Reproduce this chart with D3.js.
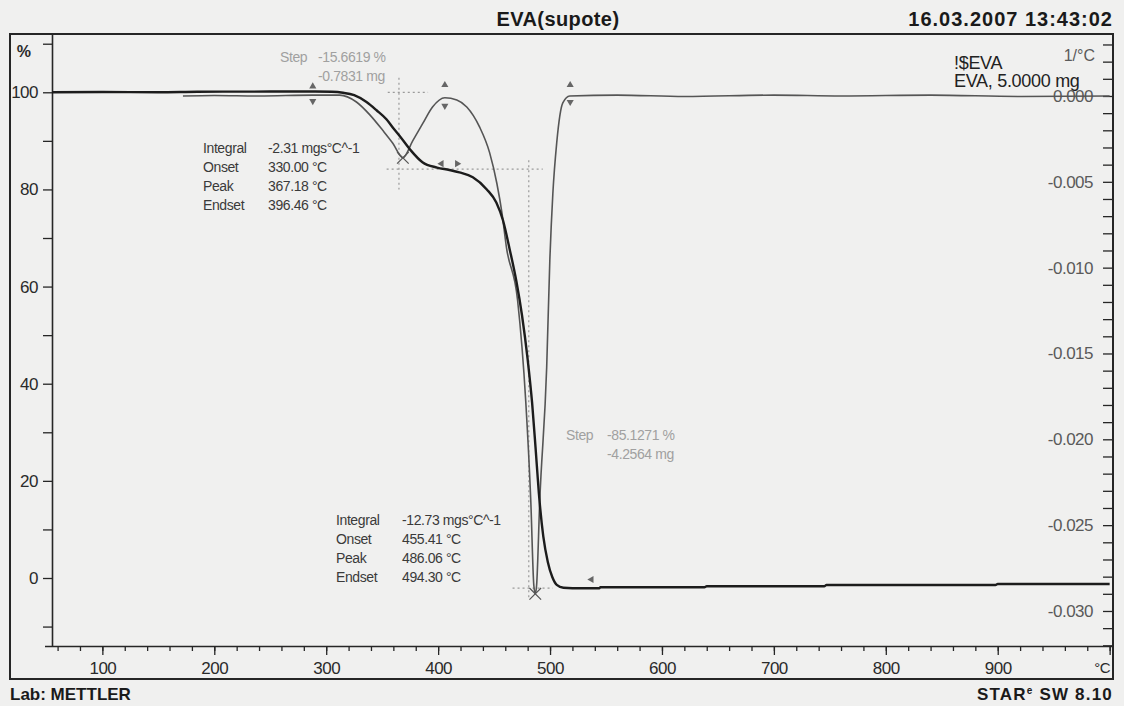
<!DOCTYPE html>
<html><head><meta charset="utf-8">
<script src="https://cdn.jsdelivr.net/npm/d3@7"></script>
<style>
html,body{margin:0;padding:0;background:#f0f0ef;}
svg{display:block;font-family:"Liberation Sans",Arial,sans-serif;}
</style></head>
<body>
<svg id="chart" width="1124" height="706"></svg>
<script>
// ---------- data ----------
const tgaTemp = [55,100,150,185,250,290,305,315,325,336,345,354,360,366,375,386,399,410,419,431,443.5,452,458,464,470,475,480,484,487,490,494,498,502,506,512,520,544,545,638,640,745,747,898,900,1000];
const tgaMass = [100.0,100.05,100.0,100.1,100.15,100.15,100.1,99.9,99.4,98.0,96.3,94.4,92.6,90.9,88.2,85.6,84.5,84.0,83.5,82.5,80.0,77.3,73.6,67.6,61.0,54.0,45.0,36.0,27.0,17.5,8.5,3.3,0.2,-1.4,-2.0,-2.1,-2.1,-1.9,-1.9,-1.7,-1.7,-1.45,-1.45,-1.25,-1.25];

const dtgTemp = [172,200,240,288,312,327,339,350.5,359.5,368.5,377.4,386.3,395,406,416.7,425.6,437,446,452.5,457,461,471,478.3,482.8,485.5,486.8,488,490.8,497,499.8,502.5,506,511.4,517.6,560,620,700,760,840,920,1000];
const dtgRate = [0.0,0.00003,0.0,0.00005,0.00005,-0.00035,-0.0011,-0.002,-0.00275,-0.0036,-0.0026,-0.0016,-0.00064,-0.0001,-0.00023,-0.00064,-0.0018,-0.0033,-0.0051,-0.0068,-0.0088,-0.0119,-0.0178,-0.0236,-0.0285,-0.0290,-0.0285,-0.0236,-0.0158,-0.0096,-0.0057,-0.0027,-0.0004,0.0,0.00005,-0.00003,0.00005,0.0,0.00005,-0.00003,0.0];

const xMajorTicks = [100,200,300,400,500,600,700,800,900,1000];
const xTickLabels = ["100","200","300","400","500","600","700","800","900","°C"];
const xMinorTicks = d3.range(60,1001,20);
const yLeftTicks = d3.range(-10,111,10);
const yLeftLabels = [0,20,40,60,80,100];
const yRightTicks = d3.range(-32,4,1).map(d=>d/1000);
const yRightLabels = [0,-0.005,-0.010,-0.015,-0.020,-0.025,-0.030];

const block1Names = ["Integral","Onset","Peak","Endset"];
const block1Values = ["-2.31 mgs°C^-1","330.00 °C","367.18 °C","396.46 °C"];
const block2Names = ["Integral","Onset","Peak","Endset"];
const block2Values = ["-12.73 mgs°C^-1","455.41 °C","486.06 °C","494.30 °C"];
const step1Values = ["-15.6619 %","-0.7831 mg"];
const step2Values = ["-85.1271 %","-4.2564 mg"];

// dotted evaluation lines: [T1, v1, T2, v2] on the % axis
const guideLines = [[355,100,391,100],[365,103,365,80],[354,84.2,493.5,84.2],[481,86,481,-4.5],[466.5,-2.1,502.5,-2.1]];
// cross markers on DTG curve
const crossMarks = [[368.5,-0.0036],[486.8,-0.0290]];
// small triangle markers [T, value on %-axis, rotation]
const triMarks = [[288,101.2,-90],[288,98.2,90],[406,101.5,-90],[406,97.2,90],[518,101.5,-90],[518,98.0,90],[403,85.3,180],[417,85.3,0],[537,-0.3,180]];

// ---------- layout ----------
const svg = d3.select("#chart");
const L = 52, R = 1113, T = 34, B = 646;
const x = d3.scaleLinear().domain([55,1003]).range([L,R]);
const yL = d3.scaleLinear().domain([-14,112]).range([B,T]);
const yR = d3.scaleLinear().domain([-0.03204,0.00361]).range([B,T]);

const dark = "#262626";

// frame
svg.append("rect").attr("x",10).attr("y",T).attr("width",R-10).attr("height",679-T)
  .attr("fill","none").attr("stroke",dark).attr("stroke-width",2);

// titles
svg.append("text").attr("x",558).attr("y",26).attr("text-anchor","middle").attr("letter-spacing","0.4")
  .attr("font-size",20).attr("font-weight","bold").attr("fill","#1a1a1a").text("EVA(supote)");
svg.append("text").attr("x",1113).attr("y",26).attr("text-anchor","end").attr("letter-spacing","1")
  .attr("font-size",20).attr("font-weight","bold").attr("fill","#1a1a1a").text("16.03.2007 13:43:02");
svg.append("text").attr("x",10).attr("y",700)
  .attr("font-size",17).attr("font-weight","bold").attr("fill","#1a1a1a").text("Lab: METTLER");
const star = svg.append("text").attr("x",1113).attr("y",700).attr("text-anchor","end")
  .attr("font-size",17).attr("font-weight","bold").attr("fill","#1a1a1a").attr("letter-spacing","1.2");
star.append("tspan").text("STAR");
star.append("tspan").attr("font-size",10).attr("dy",-6).text("e");
star.append("tspan").attr("dy",6).text(" SW 8.10");

// axes
function styleAxis(g, col){
  g.select(".domain").attr("stroke",dark).attr("stroke-width",1.6);
  g.selectAll(".tick line").attr("stroke",dark).attr("stroke-width",1.3);
  g.selectAll(".tick text").attr("fill",col).attr("font-size",17)
    .attr("font-family","'Liberation Sans',Arial,sans-serif").attr("letter-spacing","-0.5");
}
const gxMinor = svg.append("g").attr("transform",`translate(0,${B})`)
  .call(d3.axisBottom(x).tickValues(xMinorTicks).tickSize(5).tickFormat(""));
styleAxis(gxMinor,dark);
gxMinor.select(".domain").attr("d",`M45,0.5H${R}`);
const gx = svg.append("g").attr("transform",`translate(0,${B})`)
  .call(d3.axisBottom(x).tickValues(xMajorTicks).tickSize(9).tickPadding(7)
    .tickFormat((d,i)=>xTickLabels[i]));
styleAxis(gx,"#2a2a2a");
gx.select(".domain").remove();
gx.selectAll(".tick text").filter(d=>d===1000).attr("text-anchor","end").attr("dx",0).attr("font-size",15);

const gyL = svg.append("g").attr("transform",`translate(${L},0)`)
  .call(d3.axisLeft(yL).tickValues(yLeftTicks).tickSize(9).tickPadding(5)
    .tickFormat(d=>yLeftLabels.includes(d)?d:""));
styleAxis(gyL,"#2a2a2a");
gyL.select(".domain").attr("d",`M0.5,${T}V${B}`);
svg.append("text").attr("x",31).attr("y",57).attr("text-anchor","end").attr("font-size",16)
  .attr("font-weight","bold").attr("fill","#2a2a2a").text("%");

const gyR = svg.append("g").attr("transform",`translate(${R},0)`)
  .call(d3.axisLeft(yR).tickValues(yRightTicks).tickSize(10).tickPadding(10)
    .tickFormat(d=>yRightLabels.some(v=>Math.abs(v-d)<1e-9)?d3.format(".3f")(d).replace("−","-"):""));
styleAxis(gyR,"#5a5a5a");
gyR.select(".domain").remove();
svg.append("text").attr("x",1095).attr("y",61).attr("text-anchor","end").attr("font-size",16)
  .attr("fill","#5a5a5a").text("1/°C");

// legend
svg.append("text").attr("x",954).attr("y",69).attr("font-size",18).attr("fill","#222").attr("letter-spacing","-0.3").text("!$EVA");
svg.append("text").attr("x",954).attr("y",87).attr("font-size",18).attr("fill","#222").attr("letter-spacing","-0.3").text("EVA, 5.0000 mg");

// guide lines
svg.append("g").selectAll("line").data(guideLines).join("line")
  .attr("x1",d=>x(d[0])).attr("y1",d=>yL(d[1])).attr("x2",d=>x(d[2])).attr("y2",d=>yL(d[3]))
  .attr("stroke","#9a9a9a").attr("stroke-width",1.2).attr("stroke-dasharray","2,3");

// curves
const dtgData = dtgTemp.map((t,i)=>[t,dtgRate[i]]);
const tgaData = tgaTemp.map((t,i)=>[t,tgaMass[i]]);
svg.append("path").datum(dtgData)
  .attr("d",d3.line().x(d=>x(d[0])).y(d=>yR(d[1])).curve(d3.curveMonotoneX))
  .attr("fill","none").attr("stroke","#555").attr("stroke-width",1.6);
svg.append("path").datum(tgaData)
  .attr("d",d3.line().x(d=>x(d[0])).y(d=>yL(d[1])).curve(d3.curveMonotoneX))
  .attr("fill","none").attr("stroke","#1c1c1c").attr("stroke-width",2.4);

// markers
const cross = d3.symbol().type(d3.symbolX).size(90);
svg.append("g").selectAll("path").data(crossMarks).join("path")
  .attr("d",cross).attr("transform",d=>`translate(${x(d[0])},${yR(d[1])})`)
  .attr("fill","none").attr("stroke","#555").attr("stroke-width",1.2);
const tri = d3.symbol().type(d3.symbolTriangle).size(22);
svg.append("g").selectAll("path").data(triMarks).join("path")
  .attr("d",tri).attr("transform",d=>`translate(${x(d[0])},${yL(d[1])}) rotate(${d[2]+90})`)
  .attr("fill","#666");

// annotation text
function block(names, values, x0, x1, y0, step, col){
  const g = svg.append("g").attr("font-size",14).attr("fill",col).attr("letter-spacing","-0.4");
  names.forEach((n,i)=>{
    g.append("text").attr("x",x0).attr("y",y0+i*step).text(n);
    g.append("text").attr("x",x1).attr("y",y0+i*step).text(values[i]);
  });
}
block(block1Names,block1Values,203,268,153,19,"#3a3a3a");
block(block2Names,block2Values,336,402,525,19,"#3a3a3a");
block(["Step",""],step1Values,280,318,62,19,"#a0a0a0");
block(["Step",""],step2Values,566,607,440,19,"#a0a0a0");
</script>
</body></html>
